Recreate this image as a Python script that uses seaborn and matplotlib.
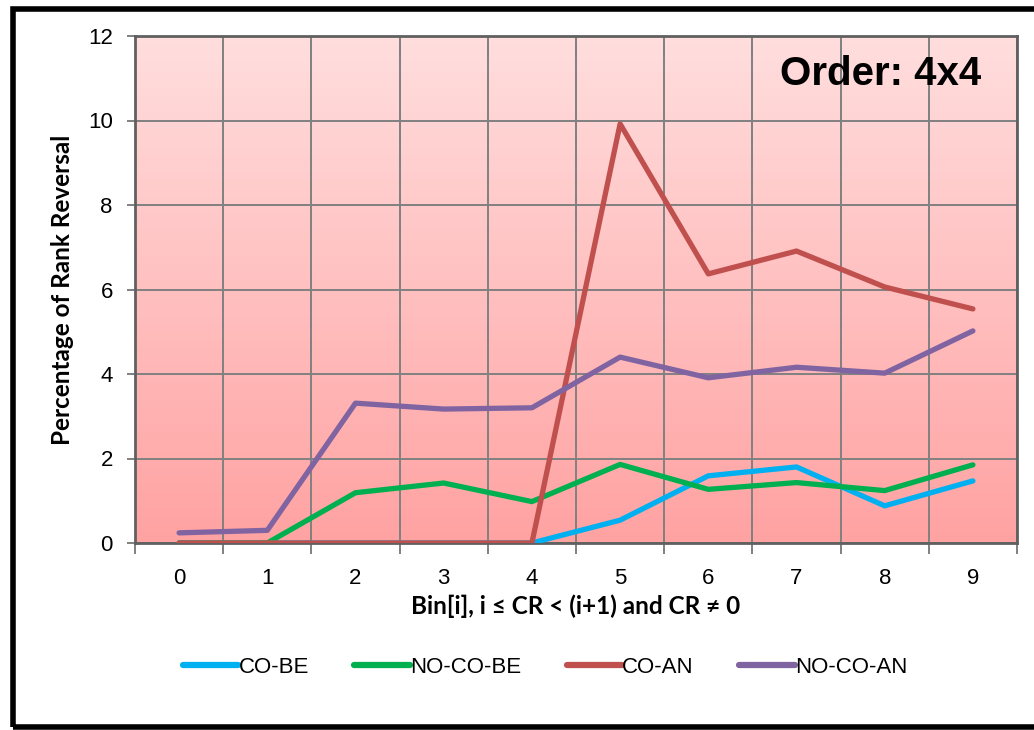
import numpy as np
import pandas as pd
import matplotlib
matplotlib.use("Agg")
import matplotlib.pyplot as plt
from matplotlib.colors import LinearSegmentedColormap
from matplotlib.patches import Rectangle
import seaborn as sns

sns.set_theme(style="white")
plt.rcParams['font.family'] = ['Liberation Sans', 'DejaVu Sans']
plt.rcParams['text.color'] = 'black'
plt.rcParams['axes.labelcolor'] = 'black'
plt.rcParams['xtick.color'] = 'black'
plt.rcParams['ytick.color'] = 'black'

bins = [0, 1, 2, 3, 4, 5, 6, 7, 8, 9]
co_be = [0, 0, 0, 0, 0, 0.54, 1.59, 1.80, 0.88, 1.47]
no_co_be = [0, 0, 1.19, 1.42, 0.98, 1.86, 1.27, 1.43, 1.24, 1.85]
co_an = [0, 0, 0, 0, 0, 9.92, 6.37, 6.91, 6.06, 5.54]
no_co_an = [0.24, 0.30, 3.31, 3.17, 3.20, 4.40, 3.91, 4.16, 4.02, 5.02]

series = ["CO-BE", "NO-CO-BE", "CO-AN", "NO-CO-AN"]
colors = ["#00B0F0", "#00B050", "#C0504D", "#8064A2"]

df = pd.DataFrame({
    "bin": bins * 4,
    "value": co_be + no_co_be + co_an + no_co_an,
    "series": [s for s in series for _ in bins],
})

fig = plt.figure(figsize=(10.34, 7.3), dpi=100)
ax = fig.add_axes([135 / 1034, 1 - 543 / 730, 882 / 1034, 507 / 730])

# pink gradient background, light at top
cmap = LinearSegmentedColormap.from_list("pink", ["#FFDEDE", "#FFA2A2"])
grad = np.linspace(0, 1, 256).reshape(-1, 1)
ax.imshow(grad, cmap=cmap, extent=[-0.5, 9.5, 0, 12], origin="upper",
          aspect="auto", zorder=0)

sns.lineplot(data=df, x="bin", y="value", hue="series", hue_order=series,
             palette=colors, linewidth=3.8, ax=ax, zorder=3, legend=True)

ax.set_xlim(-0.5, 9.5)
ax.set_ylim(0, 12)
ax.set_xticks(bins)
ax.set_xticks(np.arange(-0.5, 10, 1), minor=True)
ax.set_yticks(range(0, 13, 2))
ax.grid(False)
ax.set_axisbelow(True)
ax.grid(True, which="minor", axis="x", color="#808080", linewidth=1.4)
ax.grid(True, which="major", axis="y", color="#808080", linewidth=1.4)

ax.tick_params(axis="x", which="major", length=0, labelsize=16, pad=18)
ax.tick_params(axis="x", which="minor", length=8, width=1.4, color="#808080",
               direction="out", bottom=True, top=False)
ax.tick_params(axis="y", length=6, width=1.4, color="#808080", labelsize=16,
               pad=10, left=True, labelcolor="black")

for sp in ax.spines.values():
    sp.set_color("#606060")
    sp.set_linewidth(2)

ax.set_xlabel("Bin[i], i \u2264 CR < (i+1) and CR \u2260 0", fontsize=17.5,
              fontweight="bold", family=["Lato", "DejaVu Sans"], labelpad=4)
ax.set_ylabel("Percentage of Rank Reversal", fontsize=17.5, fontweight="bold",
              family=["Lato", "DejaVu Sans"], labelpad=10)

ax.text(0.96, 0.925, "Order: 4x4", transform=ax.transAxes, ha="right", va="center",
        fontsize=29, fontweight="bold", zorder=5)

leg = ax.legend(loc="center", bbox_to_anchor=(0.465, -0.245), ncol=4, frameon=False,
                fontsize=16, handlelength=2.5, handletextpad=0.0, columnspacing=2.05)
for h in leg.get_lines():
    h.set_linewidth(4.5)

# outer black frame
fig.patches.append(Rectangle((13 / 1034, 3 / 730), 1.1, 718 / 730, transform=fig.transFigure,
                             fill=False, edgecolor="black", linewidth=4, zorder=10))

fig.savefig("out.png", dpi=100)
